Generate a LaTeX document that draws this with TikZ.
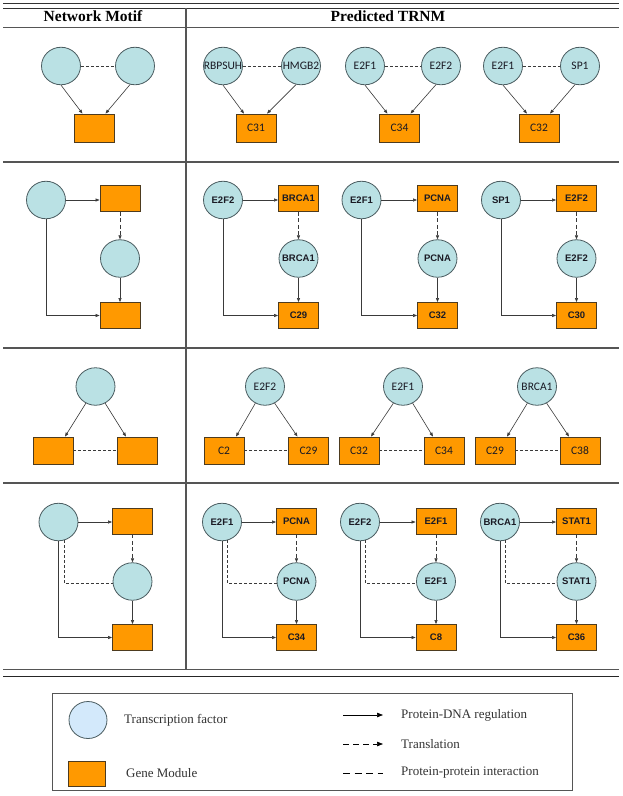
\documentclass[tikz,border=0pt]{standalone}
\usepackage{fontspec}
\setmainfont{Liberation Serif}
\newfontfamily\labA{Carlito}
\newfontfamily\labB{Liberation Sans}
\usetikzlibrary{arrows.meta,shapes.geometric,calc}
\definecolor{tfill}{HTML}{BAE1E4}
\definecolor{tdraw}{HTML}{4A5C60}
\definecolor{gfill}{HTML}{FF9900}
\definecolor{gdraw}{HTML}{4D3B1F}
\definecolor{edge}{HTML}{3A3A3A}
\definecolor{rulec}{HTML}{555555}
\definecolor{legfill}{HTML}{D3E9FB}
\definecolor{txt}{HTML}{1A1A24}
\newcommand\TRrowA[7]{%
  \node[tf,label={[la]center:#5}] (#1a) at (#2,66) {};
  \node[tf,label={[la]center:#6}] (#1b) at (#3,66) {};
  \node[gm,la,minimum height=28pt] (#1c) at (#4,128) {#7};
  \draw[ppi] (#1a) -- (#1b);
  \draw[reg] (#1a.south) -- ($(#1c.north)+(-12,0)$);
  \draw[reg] (#1b.255) -- ($(#1c.north)+(11,0)$);
}
\newcommand\TRrowB[7]{%
  \node[tf,label={[lb]center:#4}] (#1a) at (#2,200) {};
  \node[gm,lb] (#1b) at (#3,198.5) {#5};
  \node[tf,label={[lb]center:#6}] (#1c) at (#3,258.5) {};
  \node[gm,lb] (#1d) at (#3,315.5) {#7};
  \draw[reg] (#1a.east) -- (#1a.east -| #1b.west);
  \draw[trl] (#1b.south) -- (#1c.north);
  \draw[reg] (#1c.south) -- (#1d.north);
  \draw[reg] (#1a.south) |- (#1d.west);
}
\newcommand\TRrowC[7]{%
  \node[tf,label={[la]center:#5}] (#1a) at (#2,386.5) {};
  \node[gm,la,minimum height=27pt] (#1b) at (#3,450.5) {#6};
  \node[gm,la,minimum height=27pt] (#1c) at (#4,450.5) {#7};
  \draw[ppi] (#1b) -- (#1c);
  \draw[reg] (#1a.240) -- ($(#1b.north)+(12,0)$);
  \draw[reg] (#1a.300) -- ($(#1c.north)+(-11,0)$);
}
\newcommand\TRrowD[7]{%
  \node[tf,label={[lb]center:#4}] (#1a) at (#2,522) {};
  \node[gm,lb] (#1b) at (#3,521) {#5};
  \node[tf,label={[lb]center:#6}] (#1c) at (#3,581.5) {};
  \node[gm,lb] (#1d) at (#3,637.5) {#7};
  \draw[reg] (#1a.east) -- (#1a.east -| #1b.west);
  \draw[trl] (#1b.south) -- (#1c.north);
  \draw[reg] (#1c.south) -- (#1d.north);
  \draw[reg] (#1a.south) |- (#1d.west);
  \draw[ppi] (#1a.287) |- ($(#1c.west)+(0,2)$);
}
\begin{document}
\begin{tikzpicture}[x=1pt,y=-1pt,
  tf/.style={ellipse,draw=tdraw,fill=tfill,line width=0.8pt,minimum width=39pt,minimum height=37.5pt,inner sep=0pt},
  gm/.style={rectangle,draw=gdraw,fill=gfill,line width=0.8pt,minimum width=40pt,minimum height=26pt,inner sep=0pt},
  la/.style={font=\labA\fontsize{11.5}{13}\selectfont,text=txt,inner sep=0pt},
  lb/.style={font=\labB\bfseries\fontsize{9.5}{11}\selectfont,text=txt,inner sep=0pt},
  reg/.style={draw=edge,line width=0.6pt,-{Triangle[length=4pt,width=3pt]}},
  trl/.style={reg,dash pattern=on 4pt off 2.5pt},
  ppi/.style={draw=edge,line width=0.6pt,dash pattern=on 3pt off 2pt},
  legarr/.style={draw=black,line width=0.7pt,-{Triangle[length=6pt,width=4.5pt]}},
  rulel/.style={draw=rulec,line width=1.4pt},
  hdr/.style={font=\bfseries\fontsize{15.5}{17}\selectfont,text=black,inner sep=0pt},
  legt/.style={font=\fontsize{13}{15}\selectfont,text=black!80,inner sep=0pt,anchor=west}]
\useasboundingbox (0,0) rectangle (622,796);
\fill[white] (0,0) rectangle (622,796);
% table rules
\draw[rulel,draw=black!80] (3,3.3) -- (619,3.3);
\draw[rulel,draw=black!80] (3,8.3) -- (619,8.3);
\draw[rulel] (3,27.7) -- (619,27.7);
\draw[rulel] (3,162) -- (619,162);
\draw[rulel] (3,348) -- (619,348);
\draw[rulel] (3,483) -- (619,483);
\draw[rulel] (3,669.5) -- (619,669.5);
\draw[rulel,draw=black!85] (3,676.5) -- (619,676.5);
\draw[rulel] (186,8.3) -- (186,669.5);
% headers
\node[hdr] (h1) at (93,16) {Network Motif};
\node[hdr] (h2) at (388,16) {Predicted TRNM};
% row 1
\TRrowA{ma}{61}{135}{94.5}{}{}{}
\TRrowA{pa}{223}{301}{256}{RBPSUH}{HMGB2}{C31}
\TRrowA{qa}{365}{441}{399.5}{E2F1}{E2F2}{C34}
\TRrowA{ra}{503}{580}{539}{E2F1}{SP1}{C32}
% row 2
\TRrowB{mb}{46}{120}{}{}{}{}
\TRrowB{pb}{223}{298.5}{E2F2}{BRCA1}{BRCA1}{C29}
\TRrowB{qb}{361.5}{437.5}{E2F1}{PCNA}{PCNA}{C32}
\TRrowB{rb}{501}{576.5}{SP1}{E2F2}{E2F2}{C30}
% row 3
\TRrowC{mc}{95.5}{53}{137}{}{}{}
\TRrowC{pc}{265}{224}{308.5}{E2F2}{C2}{C29}
\TRrowC{qc}{403}{359}{444}{E2F1}{C32}{C34}
\TRrowC{rc}{537}{495}{580}{BRCA1}{C29}{C38}
% row 4
\TRrowD{md}{58.5}{132.5}{}{}{}{}
\TRrowD{pd}{222}{296.5}{E2F1}{PCNA}{PCNA}{C34}
\TRrowD{qd}{360}{436}{E2F2}{E2F1}{E2F1}{C8}
\TRrowD{rd}{500}{576.5}{BRCA1}{STAT1}{STAT1}{C36}
% legend
\draw[draw=rulec,line width=0.9pt] (52,693) rectangle (572,790);
\node[ellipse,draw=tdraw,fill=legfill,line width=0.8pt,minimum width=38pt,minimum height=37pt,inner sep=0pt] (lc) at (88,720) {};
\node[gm,minimum width=37pt,minimum height=25pt] (lg) at (86.5,773.5) {};
\node[legt] (lt1) at (124,720) {Transcription factor};
\node[legt] (lt2) at (126,773) {Gene Module};
\coordinate (l1s) at (343,715); \coordinate (l1e) at (383,715);
\coordinate (l2s) at (343,744); \coordinate (l2e) at (383,744);
\coordinate (l3s) at (343,773); \coordinate (l3e) at (383,773);
\draw[legarr] (l1s) -- (l1e);
\draw[legarr,dash pattern=on 6pt off 4pt] (l2s) -- (l2e);
\draw[draw=black,line width=0.7pt,dash pattern=on 7pt off 4.5pt] (l3s) -- (l3e);
\node[legt] (lt3) at (401,715) {Protein-DNA regulation};
\node[legt] (lt4) at (401,744) {Translation};
\node[legt] (lt5) at (401,773) {Protein-protein interaction};
\end{tikzpicture}
\end{document}
